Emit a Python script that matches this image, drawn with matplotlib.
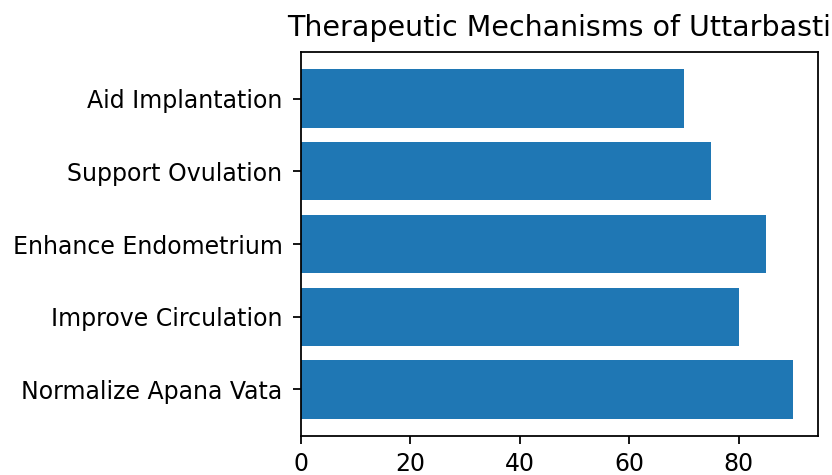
import matplotlib
matplotlib.use("Agg")
import matplotlib.pyplot as plt

categories = ["Normalize Apana Vata", "Improve Circulation", "Enhance Endometrium",
              "Support Ovulation", "Aid Implantation"]
values = [90, 80, 85, 75, 70]
title = "Therapeutic Mechanisms of Uttarbasti"

W, H, DPI = 832, 475, 160
fig = plt.figure(figsize=(W / DPI, H / DPI), dpi=DPI)
left, right, top, bottom = 301, 818, 52, 436
ax = fig.add_axes([left / W, 1 - bottom / H, (right - left) / W, (bottom - top) / H])
ax.barh(categories, values, color="#1f77b4")
ax.set_title(title, fontsize=12.8, pad=7)
ax.tick_params(labelsize=10.65)
ax.tick_params(axis="y", pad=4.8)
fig.savefig("out.png", dpi=DPI)
